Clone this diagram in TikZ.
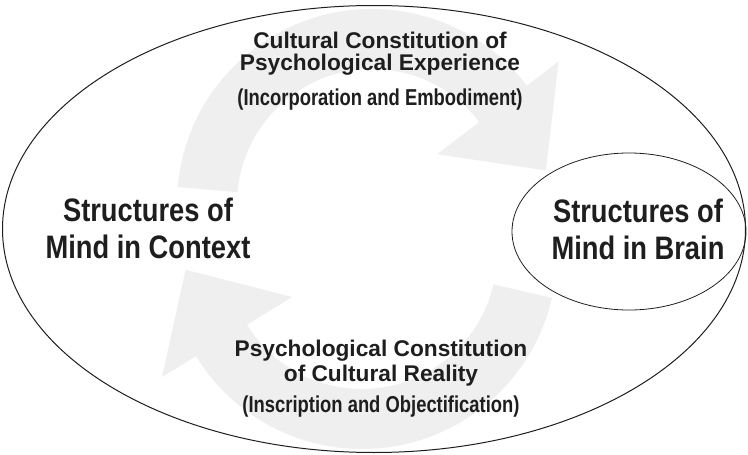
\documentclass[tikz,border=0pt]{standalone}
\usepackage{fontspec}
\setmainfont{Liberation Sans}
\newfontfamily\cond[FakeStretch=0.8]{Liberation Sans}
\newfontfamily\condbig[FakeStretch=0.84]{Liberation Sans}
\usetikzlibrary{shapes.geometric}
\definecolor{arrowgray}{HTML}{EFEFF0}
\definecolor{ink}{HTML}{1E1E1E}
\tikzset{
  frame/.style={draw=ink, ellipse, inner sep=0pt, line width=1pt},
  head/.style={anchor=base, text=ink, font=\bfseries\fontsize{22.7}{24}\selectfont, inner sep=0pt},
  sub/.style={anchor=base, text=ink, font=\cond\bfseries\fontsize{23}{25}\selectfont, inner sep=0pt},
  big/.style={anchor=base, text=ink, font=\condbig\bfseries\fontsize{32.5}{37}\selectfont, inner sep=0pt},
  cyc/.style={fill=arrowgray}
}
\begin{document}
\begin{tikzpicture}[x=1pt,y=-1pt]
\useasboundingbox (0,0) rectangle (748,455);
% faint circular arrows
\begin{scope}[shift={(372,204)}]
  \fill[cyc] (185:195) arc[start angle=185, end angle=322.6, radius=195]
    -- (322.6:235) -- (173.9,-33.5) -- (322.6:82) -- (322.6:135)
    arc[start angle=322.6, end angle=185, radius=135] -- cycle;
\end{scope}
\begin{scope}[shift={(362,254)}]
  \fill[cyc] (13:195) arc[start angle=13, end angle=148.4, radius=195]
    -- (148.4:235) -- (-176.4,15.75) -- (148.4:82) -- (148.4:135)
    arc[start angle=148.4, end angle=13, radius=135] -- cycle;
\end{scope}
% ellipses
\node[frame, minimum width=743pt, minimum height=447pt] (outer) at (374,229) {};
\node[frame, line width=0.8pt, minimum width=234pt, minimum height=157pt] (brain) at (629,231.5) {};
% texts
\node[head] (t1) at (380,48) {Cultural Constitution of};
\node[head] (t2) at (380,70) {Psychological Experience};
\node[sub]  (t3) at (380,105) {(Incorporation and Embodiment)};
\node[head] (b1) at (381,356) {Psychological Constitution};
\node[head] (b2) at (381,381) {of Cultural Reality};
\node[sub]  (b3) at (381,412) {(Inscription and Objectification)};
\node[big] (l1) at (148,221) {Structures of};
\node[big] (l2) at (148,258) {Mind in Context};
\node[big] (r1) at (638,222) {Structures of};
\node[big] (r2) at (638,259) {Mind in Brain};
\end{tikzpicture}
\end{document}
